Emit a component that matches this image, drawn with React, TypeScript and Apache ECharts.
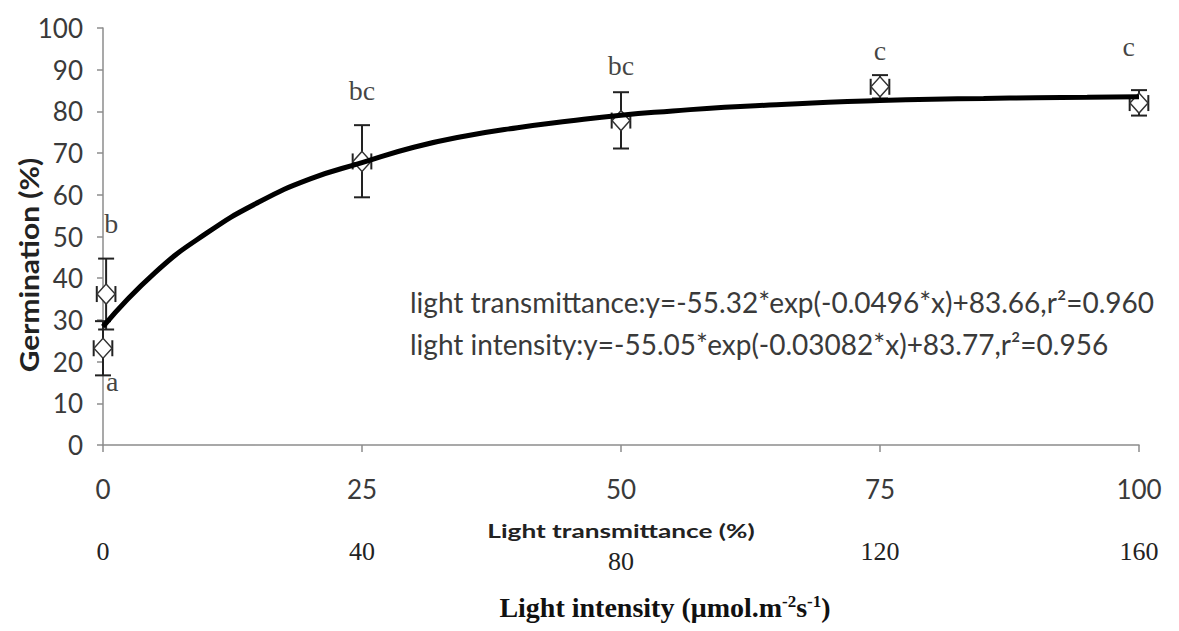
import React, { useEffect, useRef } from "react";
import * as echarts from "echarts";

// Fitted curve (light transmittance %, germination %)
const curveX = [0, 5, 10, 15, 20, 25, 30, 35, 40, 45, 50, 55, 60, 65, 70, 75, 80, 85, 90, 95, 100];
const curveY = [28.4, 41.3, 50.8, 58.2, 63.8, 67.7, 71.4, 74.1, 76.1, 77.7, 79.1, 80.1, 81.0, 81.6, 82.2, 82.6, 82.9, 83.1, 83.3, 83.4, 83.5];

// Observed means with error bars
const pointX = [0.3, 0, 25, 50, 75, 100];
const pointY = [36.2, 23.2, 68, 77.8, 85.9, 82];
const errLow = [27.7, 16.7, 59.4, 71.1, 83.1, 79.0];
const errHigh = [44.7, 29.7, 76.7, 84.6, 88.7, 85.1];
const xErr = 0.9;

// Significance letters
const letterText = ["b", "a", "bc", "bc", "c", "c"];
const letterX = [0.8, 0.9, 25, 50, 75, 99];
const letterY = [53, 15.3, 85, 91, 94.5, 95.5];

const yTicks = { min: 0, max: 100, interval: 10 };
const xTicks = { min: 0, max: 100, interval: 25 };
const x2Ticks = { min: 0, max: 160, interval: 40 };

const eq1 = "light transmittance:y=-55.32*exp(-0.0496*x)+83.66,r²=0.960";
const eq2 = "light intensity:y=-55.05*exp(-0.03082*x)+83.77,r²=0.956";
const yTitle = "Germination (%)";
const xTitle = "Light transmittance (%)";
const x2Title = "Light intensity (μmol.m{sup|-2}s{sup|-1})";

const SANS = "Lato, 'Open Sans', sans-serif";
const SERIF = "'Liberation Serif', 'DejaVu Serif', serif";
const AXIS_GREY = "#8c8c8c";
const TEXT_GREY = "#3a3a3a";

export default function App() {
  const ref = useRef<HTMLDivElement>(null);
  useEffect(() => {
    if (!ref.current) return;
    const chart = echarts.init(ref.current, null, { renderer: "svg" });
    const errData = pointX.map((x, i) => [x, pointY[i], errLow[i], errHigh[i]]);
    const option: any = {
      animation: false,
      backgroundColor: "#ffffff",
      grid: { left: 103, right: 40, top: 28, bottom: 186, containLabel: false },
      xAxis: [
        {
          type: "value",
          position: "bottom",
          ...xTicks,
          axisLine: { show: true, lineStyle: { color: AXIS_GREY, width: 1.5 } },
          axisTick: { show: true, length: 7, lineStyle: { color: AXIS_GREY, width: 1.5 } },
          splitLine: { show: false },
          axisLabel: { margin: 31, fontSize: 26, fontFamily: SANS, color: TEXT_GREY },
        },
        {
          type: "value",
          position: "bottom",
          ...x2Ticks,
          axisLine: { show: false },
          axisTick: { show: false },
          splitLine: { show: false },
          axisLabel: {
            margin: 93,
            fontSize: 26,
            fontFamily: SERIF,
            color: "#222",
            formatter: (v: number) => (v === 80 ? "{low|80}" : String(v)),
            rich: { low: { fontSize: 26, fontFamily: SERIF, color: "#222", padding: [10, 0, 0, 0] } },
          },
        },
      ],
      yAxis: {
        type: "value",
        ...yTicks,
        axisLine: { show: true, lineStyle: { color: AXIS_GREY, width: 1.5 } },
        axisTick: { show: true, length: 6, lineStyle: { color: AXIS_GREY, width: 1.5 } },
        splitLine: { show: false },
        axisLabel: { margin: 20, fontSize: 26, fontFamily: SANS, color: TEXT_GREY },
      },
      graphic: [
        {
          type: "text",
          x: 410,
          y: 281,
          style: {
            text: eq1 + "\n" + eq2,
            fontSize: 28,
            fontFamily: SANS,
            fill: TEXT_GREY,
            lineHeight: 42,
          },
        },
        {
          type: "text",
          x: 29,
          y: 265,
          rotation: Math.PI / 2,
          scaleX: 1.15,
          style: {
            text: yTitle,
            fontSize: 26,
            fontWeight: "bold",
            fontFamily: SANS,
            fill: "#222",
            align: "center",
            verticalAlign: "middle",
          },
        },
        {
          type: "text",
          x: 621,
          y: 531,
          scaleX: 1.38,
          style: {
            text: xTitle,
            fontSize: 19,
            fontWeight: "bold",
            fontFamily: SANS,
            fill: "#222",
            align: "center",
            verticalAlign: "middle",
          },
        },
        {
          type: "text",
          x: 665,
          y: 607,
          style: {
            text: x2Title,
            fontSize: 28,
            fontWeight: "bold",
            fontFamily: SERIF,
            fill: "#111",
            align: "center",
            verticalAlign: "middle",
            rich: {
              sup: { fontSize: 17, fontWeight: "bold", fontFamily: SERIF, fill: "#111", verticalAlign: "top", lineHeight: 20 },
            },
          },
        },
      ],
      series: [
        {
          type: "custom",
          z: 2,
          renderItem: (params: any, api: any) => {
            const x = api.value(0);
            const y = api.value(1);
            const lo = api.value(2);
            const hi = api.value(3);
            const top = api.coord([x, hi]);
            const bot = api.coord([x, lo]);
            const left = api.coord([x - xErr, y]);
            const right = api.coord([x + xErr, y]);
            const cw = 8;
            const st = { stroke: "#222", lineWidth: 2 };
            return {
              type: "group",
              children: [
                { type: "line", shape: { x1: top[0], y1: top[1], x2: bot[0], y2: bot[1] }, style: st },
                { type: "line", shape: { x1: top[0] - cw, y1: top[1], x2: top[0] + cw, y2: top[1] }, style: st },
                { type: "line", shape: { x1: bot[0] - cw, y1: bot[1], x2: bot[0] + cw, y2: bot[1] }, style: st },
                { type: "line", shape: { x1: left[0], y1: left[1], x2: right[0], y2: right[1] }, style: st },
                { type: "line", shape: { x1: left[0], y1: left[1] - cw, x2: left[0], y2: left[1] + cw }, style: st },
                { type: "line", shape: { x1: right[0], y1: right[1] - cw, x2: right[0], y2: right[1] + cw }, style: st },
              ],
            };
          },
          data: errData,
          silent: true,
        },
        {
          type: "scatter",
          z: 3,
          symbol: "diamond",
          symbolSize: [18, 20],
          itemStyle: { color: "#ffffff", borderColor: "#333", borderWidth: 1.5, opacity: 1 },
          data: pointX.map((x, i) => [x, pointY[i]]),
        },
        {
          type: "line",
          z: 4,
          smooth: 0.5,
          symbol: "none",
          lineStyle: { color: "#000", width: 5 },
          data: curveX.map((x, i) => [x, curveY[i]]),
        },
        {
          type: "scatter",
          z: 5,
          symbol: "circle",
          symbolSize: 1,
          itemStyle: { color: "rgba(0,0,0,0)" },
          data: letterX.map((x, i) => [x, letterY[i], letterText[i]]),
          label: {
            show: true,
            position: "inside",
            formatter: (p: any) => p.value[2],
            fontSize: 28,
            fontFamily: SERIF,
            color: "#111",
          },
        },
      ],
    };
    chart.setOption(option);
    return () => chart.dispose();
  }, []);
  return <div ref={ref} style={{ position: "fixed", left: 0, top: 0, width: 1179, height: 631 }} />;
}
